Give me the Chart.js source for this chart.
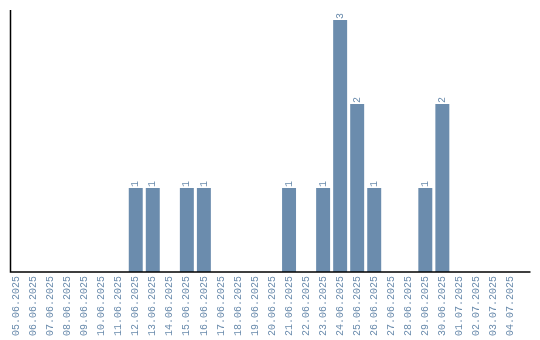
<!DOCTYPE html>
<html>
<head>
<meta charset="utf-8">
<script src="https://cdn.jsdelivr.net/npm/chart.js@4/dist/chart.umd.min.js"></script>
<style>
  html, body { margin: 0; padding: 0; background: #fff; }
  #wrap { width: 540px; height: 340px; }
</style>
</head>
<body>
<div id="wrap"><canvas id="bar-chart"></canvas></div>
<script>
const days = [
  '05.06.2025', '06.06.2025', '07.06.2025', '08.06.2025', '09.06.2025', '10.06.2025',
  '11.06.2025', '12.06.2025', '13.06.2025', '14.06.2025', '15.06.2025', '16.06.2025',
  '17.06.2025', '18.06.2025', '19.06.2025', '20.06.2025', '21.06.2025', '22.06.2025',
  '23.06.2025', '24.06.2025', '25.06.2025', '26.06.2025', '27.06.2025', '28.06.2025',
  '29.06.2025', '30.06.2025', '01.07.2025', '02.07.2025', '03.07.2025', '04.07.2025'
];
const counts = [
  0, 0, 0, 0, 0, 0,
  0, 1, 1, 0, 1, 1,
  0, 0, 0, 0, 1, 0,
  1, 3, 2, 1, 0, 0,
  1, 2, 0, 0, 0, 0
];
const yMax = 3.12;

const barColor = '#6b8cad';

// axis lines + value labels
const extras = {
  id: 'extras',
  afterDatasetsDraw(chart) {
    const ctx = chart.ctx;
    const area = chart.chartArea;
    ctx.save();
    ctx.strokeStyle = '#000';
    ctx.lineWidth = 1.5;
    ctx.beginPath();
    ctx.moveTo(area.left + 2.5, area.top);
    ctx.lineTo(area.left + 2.5, area.bottom);
    ctx.lineTo(area.right + 11.5, area.bottom);
    ctx.stroke();

    const meta = chart.getDatasetMeta(0);
    ctx.fillStyle = barColor;
    ctx.font = '10px "Liberation Mono"';
    ctx.textAlign = 'left';
    ctx.textBaseline = 'middle';
    meta.data.forEach((bar, i) => {
      if (!counts[i]) return;
      ctx.save();
      ctx.translate(bar.x, bar.y - 1);
      ctx.rotate(-Math.PI / 2);
      ctx.fillText(String(counts[i]), 0, 0);
      ctx.restore();
    });
    ctx.restore();
  }
};

new Chart(document.getElementById('bar-chart'), {
  type: 'bar',
  data: {
    labels: days,
    datasets: [{
      data: counts,
      backgroundColor: barColor,
      borderWidth: 0,
      categoryPercentage: 1,
      barPercentage: 0.82
    }]
  },
  options: {
    responsive: true,
    maintainAspectRatio: false,
    animation: false,
    layout: { padding: { left: 8, right: 21, top: 10, bottom: 0 } },
    plugins: { legend: { display: false }, tooltip: { enabled: false } },
    scales: {
      x: {
        offset: true,
        grid: { display: false, drawTicks: false },
        border: { display: false },
        ticks: {
          color: barColor,
          font: { family: 'Liberation Mono', size: 10 },
          minRotation: 90,
          maxRotation: 90,
          autoSkip: false,
          padding: 4
        }
      },
      y: {
        display: false,
        min: 0,
        max: yMax
      }
    }
  },
  plugins: [extras]
});
</script>
</body>
</html>
